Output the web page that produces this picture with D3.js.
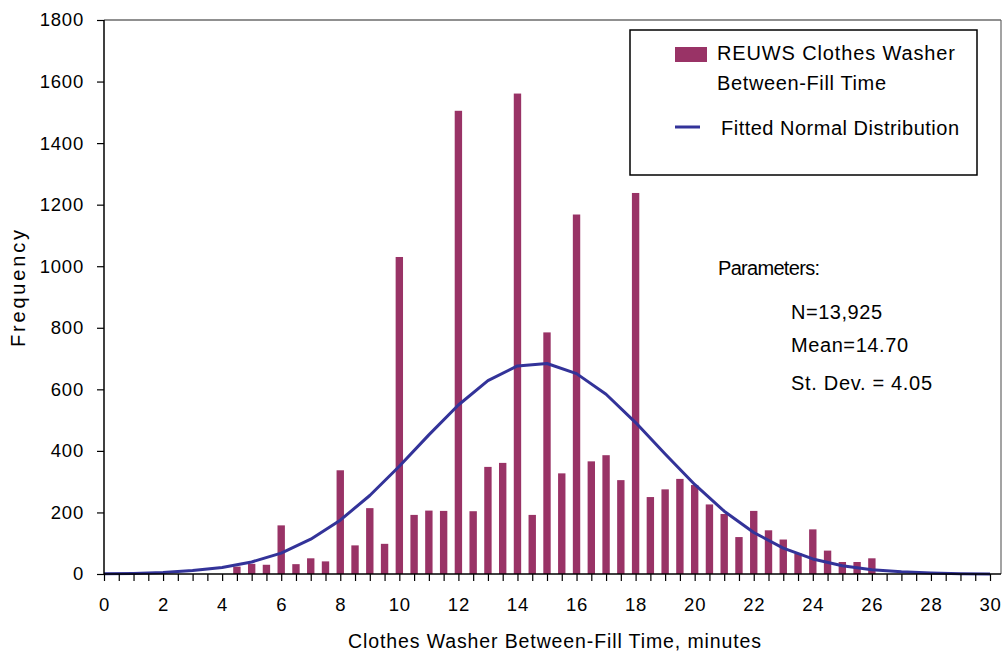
<!DOCTYPE html>
<html>
<head>
<meta charset="utf-8">
<script src="https://cdn.jsdelivr.net/npm/d3@7"></script>
<style>
body{margin:0;background:#fff;}
text{font-family:"Liberation Sans",Arial,sans-serif;fill:#000;}
</style>
</head>
<body>
<div id="chart"></div>
<script>
// between-fill time bins (minutes) and their counts
var binMinutes = [4.5,5,5.5,6,6.5,7,7.5,8,8.5,9,9.5,10,10.5,11,11.5,12,12.5,13,13.5,14,14.5,15,15.5,16,16.5,17,17.5,18,18.5,19,19.5,20,20.5,21,21.5,22,22.5,23,23.5,24,24.5,25,25.5,26];
var binFreq = [24,33,30,158,32,51,41,337,93,214,98,1030,192,206,205,1505,204,348,361,1561,192,785,327,1168,366,386,305,1238,250,275,309,289,226,195,120,205,142,112,67,145,76,39,39,51];

// fitted normal curve, one point per minute
var curveMinutes = [0,1,2,3,4,5,6,7,8,9,10,11,12,13,14,15,16,17,18,19,20,21,22,23,24,25,26,27,28,29,30];
var curveFreq = [1,2,5,11,21,39,68,113,175,255,350,452,549,628,676,684,651,584,492,390,291,204,135,84,49,27,14,7,3,1,0];

var xTickLabels = [0,2,4,6,8,10,12,14,16,18,20,22,24,26,28,30];
var yTickLabels = [0,200,400,600,800,1000,1200,1400,1600,1800];
var legendLabels = ["REUWS Clothes Washer","Between-Fill Time","Fitted Normal Distribution"];
var paramTitle = "Parameters:";
var paramLines = ["N=13,925","Mean=14.70","St. Dev. = 4.05"];

var margin = {top: 20, right: 4, bottom: 80, left: 104},
  width = 1005 - margin.left - margin.right,
  height = 654 - margin.top - margin.bottom;

var svg = d3.select("#chart")
  .append("svg")
  .attr("width", width + margin.left + margin.right)
  .attr("height", height + margin.top + margin.bottom)
  .append("g")
  .attr("transform", "translate(" + margin.left + "," + margin.top + ")");

var x = d3.scaleLinear().domain([0, 30]).range([0, 886]);//axis stops at 30, frame goes a bit further
var y = d3.scaleLinear().domain([0, 1800]).range([height, 0]);

// frame on top and right
svg.append("line").attr("x1", 0).attr("x2", width).attr("y1", 0).attr("y2", 0)
  .attr("stroke", "#222").attr("stroke-width", 1.2);
svg.append("line").attr("x1", width).attr("x2", width).attr("y1", 0).attr("y2", height)
  .attr("stroke", "#666").attr("stroke-width", 1.2);

var barW = x(0.25) - x(0);
svg.append("g")
  .selectAll("rect")
  .data(binMinutes)
  .enter().append("rect")
    .attr("x", function(d) { return x(d) - barW / 2; })
    .attr("y", function(d, i) { return y(binFreq[i]); })
    .attr("width", barW)
    .attr("height", function(d, i) { return height - y(binFreq[i]); })
    .attr("fill", "#993366");

var line = d3.line()
  .x(function(d) { return x(d); })
  .y(function(d, i) { return y(curveFreq[i]); });

svg.append("path")
  .datum(curveMinutes)
  .attr("d", line)
  .attr("fill", "none")
  .attr("stroke", "#333399")
  .attr("stroke-width", 3)
  .attr("stroke-linejoin", "round");

// x axis, a tick every half minute, label every 2
var xAxis = svg.append("g")
  .attr("transform", "translate(0," + height + ")")
  .call(d3.axisBottom(x)
    .tickValues(d3.range(0, 30.5, 0.5))
    .tickSize(7).tickPadding(17)
    .tickFormat(function(d) { return xTickLabels.indexOf(d) >= 0 ? d : ""; }));
xAxis.select(".domain").attr("d", "M0,0H" + width).attr("stroke", "#000").attr("stroke-width", 1.5);

var yAxis = svg.append("g")
  .call(d3.axisLeft(y).tickValues(yTickLabels).tickSize(7).tickPadding(13)
    .tickFormat(d3.format("d")));
yAxis.select(".domain").attr("d", "M0," + height + "V0").attr("stroke", "#000").attr("stroke-width", 1.5);

svg.selectAll(".tick line").attr("stroke", "#000").attr("stroke-width", 1.2);
svg.selectAll(".tick text").style("font-size", "18.5px").style("letter-spacing", "0.8px")
  .style("font-family", "'Liberation Sans', Arial, sans-serif");

// axis titles
svg.append("text")
  .attr("x", 244).attr("y", 628)
  .attr("textLength", 413).attr("lengthAdjust", "spacing")
  .style("font-size", "19.5px")
  .text("Clothes Washer Between-Fill Time, minutes");

svg.append("text")
  .attr("transform", "translate(-79," + 327 + ") rotate(-90)")
  .attr("textLength", 117).attr("lengthAdjust", "spacing")
  .style("font-size", "20px")
  .text("Frequency");

// legend
var legend = svg.append("g").attr("transform", "translate(526,10)");
legend.append("rect")
  .attr("width", 347).attr("height", 145)
  .attr("fill", "#fff").attr("stroke", "#000").attr("stroke-width", 1.5);
legend.append("rect")
  .attr("x", 45).attr("y", 17).attr("width", 32).attr("height", 15)
  .attr("fill", "#993366");
legend.append("line")
  .attr("x1", 45).attr("x2", 70).attr("y1", 97).attr("y2", 97)
  .attr("stroke", "#333399").attr("stroke-width", 3);
var legendPos = [[87, 30, 238], [87, 60, 169], [91, 105, 238]];//x, baseline, width
legend.selectAll("text.lg")
  .data(legendLabels)
  .enter().append("text")
    .attr("class", "lg")
    .attr("x", function(d, i) { return legendPos[i][0]; })
    .attr("y", function(d, i) { return legendPos[i][1]; })
    .attr("textLength", function(d, i) { return legendPos[i][2]; })
    .attr("lengthAdjust", "spacing")
    .style("font-size", "20px")
    .text(function(d) { return d; });

// fit parameters
svg.append("text")
  .attr("x", 614).attr("y", 255)
  .attr("textLength", 102).attr("lengthAdjust", "spacing")
  .style("font-size", "20px")
  .text(paramTitle);
var paramPos = [[299, 91], [332, 117], [370, 141]];//baseline, width
svg.selectAll("text.pm")
  .data(paramLines)
  .enter().append("text")
    .attr("class", "pm")
    .attr("x", 687)
    .attr("y", function(d, i) { return paramPos[i][0]; })
    .attr("textLength", function(d, i) { return paramPos[i][1]; })
    .attr("lengthAdjust", "spacing")
    .style("font-size", "20px")
    .text(function(d) { return d; });
</script>
</body>
</html>
